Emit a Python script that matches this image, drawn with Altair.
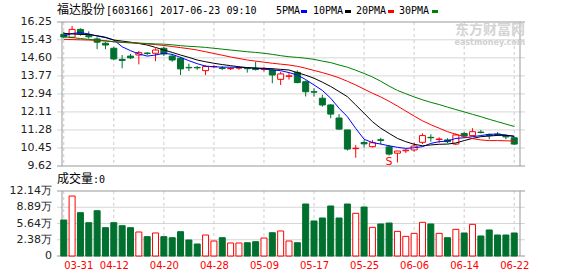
import altair as alt
import pandas as pd

# ---------------- data ----------------
dates = ["03-31", "04-05", "04-06", "04-07", "04-10", "04-11", "04-12", "04-13", "04-14", "04-17",
         "04-18", "04-19", "04-20", "04-21", "04-24", "04-25", "04-26", "04-27", "04-28", "05-02",
         "05-03", "05-04", "05-05", "05-08", "05-09", "05-10", "05-11", "05-12", "05-15", "05-16",
         "05-17", "05-18", "05-19", "05-22", "05-23", "05-24", "05-25", "05-26", "05-31", "06-01",
         "06-02", "06-05", "06-06", "06-07", "06-08", "06-09", "06-12", "06-13", "06-14", "06-15",
         "06-16", "06-19", "06-20", "06-21", "06-22"]

open_p = [15.68, 15.55, 15.91, 15.62, 15.47, 15.27, 15.04, 14.53, 14.68, 14.73,
          14.82, 14.81, 15.04, 14.68, 14.58, 14.16, 14.16, 14.01, 14.19, 14.13,
          14.10, 14.13, 14.12, 14.12, 14.07, 14.04, 13.61, 13.75, 13.93, 13.50,
          13.04, 12.74, 12.43, 11.83, 11.28, 10.42, 10.70, 10.51, 10.83, 10.50,
          10.21, 10.32, 10.36, 10.71, 10.94, 10.84, 10.82, 10.63, 11.12, 11.02,
          11.18, 11.06, 11.09, 11.00, 10.92]
close_p = [15.56, 15.91, 15.70, 15.57, 15.32, 15.19, 14.55, 14.48, 14.60, 14.84,
           14.80, 14.96, 14.78, 14.50, 14.09, 14.14, 14.14, 14.20, 14.20, 14.11,
           14.11, 14.14, 14.10, 14.06, 14.10, 13.81, 13.86, 13.77, 13.46, 13.04,
           13.02, 12.43, 12.01, 11.32, 10.40, 10.44, 10.64, 10.69, 10.80, 10.17,
           10.31, 10.35, 10.54, 11.02, 10.92, 10.86, 10.74, 11.05, 11.00, 11.20,
           11.16, 11.02, 11.07, 10.96, 10.63]
high_p = [15.80, 16.07, 15.96, 15.82, 15.55, 15.33, 15.11, 14.73, 14.78, 14.92,
          14.86, 15.04, 15.11, 14.78, 14.65, 14.33, 14.22, 14.26, 14.26, 14.22,
          14.17, 14.20, 14.17, 14.42, 14.17, 14.12, 13.96, 13.89, 14.02, 13.56,
          13.20, 12.90, 12.47, 12.01, 11.28, 10.59, 10.82, 10.82, 10.92, 10.59,
          10.31, 10.40, 10.69, 11.12, 11.08, 10.94, 10.90, 11.12, 11.18, 11.36,
          11.28, 11.12, 11.18, 11.05, 10.96]
low_p = [15.50, 15.50, 15.62, 15.48, 15.00, 15.00, 14.50, 14.12, 14.54, 14.30,
         14.72, 14.45, 14.68, 14.42, 13.81, 13.99, 14.05, 13.81, 14.12, 14.04,
         14.04, 14.05, 13.92, 14.02, 13.97, 13.43, 13.35, 13.60, 13.43, 12.82,
         12.82, 12.35, 11.82, 11.28, 10.33, 10.00, 10.47, 10.47, 10.62, 10.10,
         9.78, 10.22, 10.27, 10.63, 10.74, 10.69, 10.67, 10.58, 10.97, 11.00,
         11.12, 10.85, 11.00, 10.85, 10.59]
volume = [6.72, 11.20, 8.09, 6.22, 8.46, 5.29, 6.22, 5.66, 5.29, 4.48,
          3.61, 4.30, 3.61, 3.42, 4.54, 2.99, 2.24, 3.92, 2.80, 3.42,
          2.43, 2.43, 2.48, 2.67, 3.36, 4.35, 4.67, 2.80, 2.48, 9.71,
          6.54, 7.10, 9.34, 7.10, 9.71, 7.97, 9.15, 5.35, 5.98, 6.16,
          4.60, 3.67, 4.23, 6.29, 5.98, 4.23, 3.42, 4.98, 4.30, 5.91,
          3.74, 4.86, 3.92, 3.92, 4.30]

ma5 = [15.61, 15.72, 15.76, 15.70, 15.60, 15.53, 15.42, 15.11, 14.93, 14.78,
       14.68, 14.73, 14.81, 14.76, 14.62, 14.47, 14.33, 14.22, 14.19, 14.17,
       14.17, 14.16, 14.15, 14.12, 14.09, 14.04, 14.01, 13.92, 13.81, 13.60,
       13.35, 13.10, 12.74, 12.28, 11.89, 11.35, 10.85, 10.70, 10.63, 10.55,
       10.48, 10.43, 10.46, 10.51, 10.66, 10.74, 10.77, 10.89, 10.92, 10.97,
       11.02, 11.08, 11.09, 11.05, 10.97]
ma10 = [15.73, 15.70, 15.68, 15.67, 15.62, 15.55, 15.42, 15.37, 15.32, 15.26,
        15.19, 15.08, 14.96, 14.85, 14.73, 14.62, 14.50, 14.42, 14.35, 14.29,
        14.24, 14.19, 14.15, 14.13, 14.12, 14.10, 14.07, 14.04, 13.92, 13.80,
        13.66, 13.48, 13.28, 13.05, 12.81, 12.43, 12.05, 11.66, 11.36, 11.12,
        10.89, 10.74, 10.62, 10.55, 10.59, 10.62, 10.63, 10.68, 10.79, 10.89,
        10.97, 11.00, 11.03, 11.03, 11.00]
ma20 = [15.45, 15.44, 15.43, 15.42, 15.40, 15.37, 15.34, 15.31, 15.29, 15.27,
        15.24, 15.21, 15.17, 15.12, 15.07, 15.02, 14.96, 14.88, 14.80, 14.72,
        14.64, 14.57, 14.50, 14.45, 14.40, 14.35, 14.31, 14.27, 14.21, 14.12,
        14.02, 13.92, 13.81, 13.68, 13.52, 13.35, 13.16, 12.97, 12.80, 12.60,
        12.38, 12.15, 11.92, 11.70, 11.52, 11.36, 11.20, 11.08, 10.97, 10.88,
        10.82, 10.79, 10.79, 10.78, 10.77]
ma30 = [15.57, 15.53, 15.49, 15.45, 15.42, 15.39, 15.34, 15.32, 15.30, 15.28,
        15.26, 15.24, 15.23, 15.20, 15.16, 15.13, 15.11, 15.08, 15.04, 15.00,
        14.96, 14.92, 14.88, 14.85, 14.81, 14.76, 14.70, 14.65, 14.62, 14.58,
        14.53, 14.45, 14.38, 14.27, 14.17, 14.03, 13.88, 13.72, 13.52, 13.30,
        13.10, 12.95, 12.80, 12.67, 12.55, 12.45, 12.33, 12.22, 12.11, 12.00,
        11.89, 11.77, 11.66, 11.55, 11.44]

ma_names = ["5PMA", "10PMA", "20PMA", "30PMA"]
tick_idx = [0, 6, 12, 18, 24, 30, 36, 42, 48, 54]
price_ticks = [16.25, 15.43, 14.60, 13.77, 12.94, 12.11, 11.28, 10.45, 9.62]
vol_max = 12.14
vol_labels = ["0", "2.38万", "5.64万", "8.89万", "12.14万"]
marker_idx = [39]
marker_price = [9.80]
marker_text = ["S"]

title_name = "福达股份"
title_rest = "[603166] 2017-06-23 09:10"
vol_title = "成交量"
vol_value = ":0"
wm_cn = "东方财富网"
wm_en = "eastmoney.com"

# ---------------- styles ----------------
RED = "#ff0000"
GREEN = "#00702e"
MA_COLORS = ["#0000ff", "#000000", "#ff0000", "#008000"]
GRID = "#d6d6d6"
BORDER = "#999999"
LABEL = "#222222"
MONO = "DejaVu Sans Mono"
CJK = "Noto Sans CJK SC"
SANS = "DejaVu Sans"

n = len(dates)
df = pd.DataFrame({"i": list(range(n)), "open": open_p, "close": close_p,
                   "high": high_p, "low": low_p, "vol": volume})
df["up"] = df["close"] >= df["open"]

ma_df = pd.concat([pd.DataFrame({"i": list(range(n)), "v": vals, "s": name})
                   for name, vals in zip(ma_names, [ma5, ma10, ma20, ma30])])

X_DOMAIN = [-0.21, 54.69]
xs = alt.Scale(domain=X_DOMAIN, nice=False, zero=False)
label_expr = "[" + ",".join("'%s'" % d for d in dates) + "][datum.value]"
xaxis = alt.Axis(values=tick_idx, labelExpr=label_expr, title=None, domain=False,
                 ticks=False, grid=False, labelColor=RED, labelFont=SANS,
                 labelFontSize=10, labelPadding=4, labelFlush=False, labelOverlap=False,
                 labelAlign={"condition": {"test": "datum.value == 0", "value": "left"},
                             "value": "center"})
X = alt.X("i:Q", scale=xs, axis=xaxis)

ps = alt.Scale(domain=[price_ticks[-1], price_ticks[0]], range=[144, 0], nice=False, zero=False)
vs = alt.Scale(domain=[0, vol_max], range=[234, 169], nice=False, zero=False)

up_cond_stroke = alt.condition("datum.up", alt.value(RED), alt.value(GREEN))
up_cond_fill = alt.condition("datum.up", alt.value("white"), alt.value(GREEN))

# ---------------- price panel ----------------
p_grid = alt.Chart(pd.DataFrame({"p": price_ticks[1:-1]})).mark_rule(
    color=GRID, strokeWidth=1).encode(y=alt.Y("p:Q", scale=ps, axis=None))
p_vgrid = alt.Chart(pd.DataFrame({"i": tick_idx, "a": price_ticks[0], "b": price_ticks[-1]})).mark_rule(
    color="#cccccc", strokeDash=[3, 3], strokeWidth=1).encode(
    x=X, y=alt.Y("a:Q", scale=ps, axis=None), y2="b:Q")
p_hborder = alt.Chart(pd.DataFrame({"p": [price_ticks[0], price_ticks[-1]]})).mark_rule(
    color=BORDER, strokeWidth=1).encode(y=alt.Y("p:Q", scale=ps, axis=None))
p_vborder = alt.Chart(pd.DataFrame({"i": X_DOMAIN, "a": price_ticks[0], "b": price_ticks[-1]})).mark_rule(
    color=BORDER, strokeWidth=1).encode(x=X, y=alt.Y("a:Q", scale=ps, axis=None), y2="b:Q")
wicks = alt.Chart(df).mark_rule(strokeWidth=1).encode(
    x=X, y=alt.Y("low:Q", scale=ps, axis=None), y2="high:Q", color=up_cond_stroke)
bodies = alt.Chart(df).mark_bar(size=6, strokeWidth=1).encode(
    x=X, y=alt.Y("open:Q", scale=ps, axis=None), y2="close:Q",
    fill=up_cond_fill, stroke=up_cond_stroke)
ma_lines = alt.Chart(ma_df).mark_line(strokeWidth=1).encode(
    x=X, y=alt.Y("v:Q", scale=ps, axis=None),
    color=alt.Color("s:N", scale=alt.Scale(domain=ma_names, range=MA_COLORS), legend=None))
p_labels = alt.Chart(pd.DataFrame({"p": price_ticks, "t": ["%.2f" % v for v in price_ticks]})).mark_text(
    align="right", baseline="middle", font=SANS, fontSize=11, color=LABEL).encode(
    y=alt.Y("p:Q", scale=ps, axis=None), x=alt.value(-5), text="t:N")
s_mark = alt.Chart(pd.DataFrame({"i": marker_idx, "p": marker_price, "t": marker_text})).mark_text(
    color=RED, font=SANS, fontSize=11, baseline="middle").encode(
    x=X, y=alt.Y("p:Q", scale=ps, axis=None), text="t:N")

price = alt.layer(p_grid, p_vgrid, p_hborder, p_vborder, wicks, bodies, ma_lines, p_labels, s_mark)

# ---------------- volume panel ----------------
vol_ticks = [vol_max * k / 4 for k in range(5)]
v_grid = alt.Chart(pd.DataFrame({"v": vol_ticks[1:-1]})).mark_rule(
    color=GRID, strokeWidth=1).encode(y=alt.Y("v:Q", scale=vs, axis=None))
v_vgrid = alt.Chart(pd.DataFrame({"i": tick_idx, "a": vol_max, "b": 0})).mark_rule(
    color="#cccccc", strokeDash=[3, 3], strokeWidth=1).encode(
    x=X, y=alt.Y("a:Q", scale=vs, axis=None), y2="b:Q")
v_hborder = alt.Chart(pd.DataFrame({"v": [0, vol_max]})).mark_rule(
    color=BORDER, strokeWidth=1).encode(y=alt.Y("v:Q", scale=vs, axis=None))
v_vborder = alt.Chart(pd.DataFrame({"i": X_DOMAIN, "a": vol_max, "b": 0})).mark_rule(
    color=BORDER, strokeWidth=1).encode(x=X, y=alt.Y("a:Q", scale=vs, axis=None), y2="b:Q")
v_bars = alt.Chart(df).mark_bar(size=6, strokeWidth=1).encode(
    x=X, y=alt.Y("vol:Q", scale=vs, axis=None),
    fill=up_cond_fill, stroke=up_cond_stroke)
v_labels = alt.Chart(pd.DataFrame({"v": vol_ticks, "t": vol_labels})).mark_text(
    align="right", baseline="middle", font=SANS, fontSize=11, color=LABEL).encode(
    y=alt.Y("v:Q", scale=vs, axis=None), x=alt.value(-5), text="t:N")

volume_panel = alt.layer(v_grid, v_vgrid, v_hborder, v_vborder, v_bars, v_labels)

# ---------------- titles / legend / watermark ----------------
one = pd.DataFrame({"k": [0]})


def txt(s, x, y, font, size, color="#000000", align="left", weight="normal"):
    return alt.Chart(one).mark_text(align=align, baseline="alphabetic", font=font, fontSize=size,
                                    color=color, fontWeight=weight).encode(
        x=alt.value(x), y=alt.value(y), text=alt.value(s))


def swatch(x, color):
    return alt.Chart(one).mark_rect(color=color).encode(
        x=alt.value(x), x2=alt.value(x + 6), y=alt.value(-12), y2=alt.value(-9))


texts = [
    txt(title_name, 0, -8, CJK, 12),
    txt(title_rest, 49, -8, MONO, 10),
    txt(vol_title, 0, 161, CJK, 12),
    txt(vol_value, 36, 161, MONO, 10),
    txt(wm_cn, 468, 12, CJK, 14, color="#d4d4d4", align="right", weight="bold"),
    txt(wm_en, 468, 23, SANS, 8, color="#d0d0d0", align="right", weight="bold"),
]
leg_x = [219, 256, 299, 342]
sw_x = [244, 288, 331, 375]
for name, lx, sx, col in zip(ma_names, leg_x, sw_x, MA_COLORS):
    texts.append(txt(name, lx, -8, MONO, 10))
    texts.append(swatch(sx, col))

overlay = alt.layer(*texts)

chart = alt.layer(price, volume_panel, overlay).resolve_scale(y="independent").properties(
    width=468, height=234,
    autosize=alt.AutoSizeParams(type="none"),
    padding={"left": 57, "top": 22, "right": 53, "bottom": 20},
    background="white",
).configure_view(stroke=None)

chart.save("out.html", embed_options={"renderer": "svg", "actions": False})
